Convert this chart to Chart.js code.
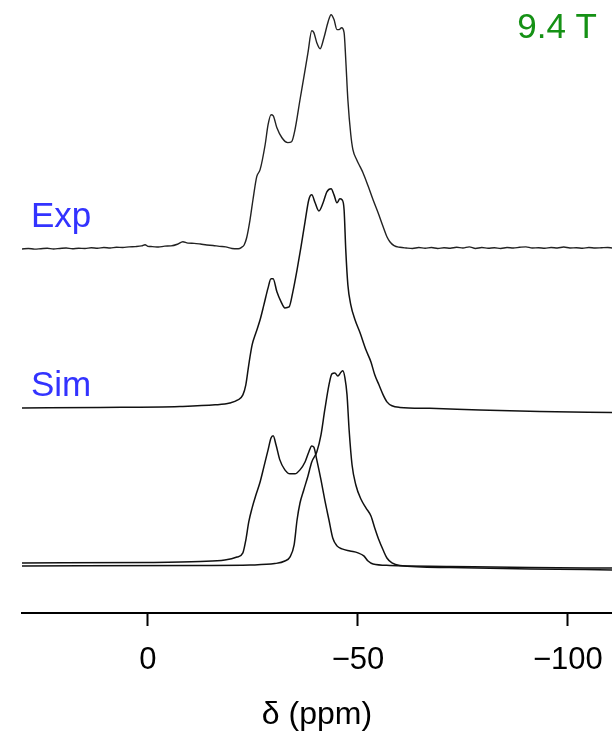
<!DOCTYPE html>
<html>
<head>
<meta charset="utf-8">
<script src="https://cdn.jsdelivr.net/npm/chart.js@4.4.1/dist/chart.umd.min.js"></script>
<style>
  html, body { margin: 0; padding: 0; background: #fff; }
  #wrap { width: 612px; height: 734px; position: relative; }
</style>
</head>
<body>
<div id="wrap"><canvas id="nmr"></canvas></div>
<script>
// chemical shift (ppm) and intensity (a.u., baseline = 0)
const expPpm = [30, 28.5, 27, 25.5, 24, 22.5, 21, 19.5, 18, 16.5, 15, 13.5, 12, 10.5, 9, 7.5, 6, 4.5, 3, 1.5, 0.7, 0,
    -1, -2.5, -4, -5.5, -7, -8.3, -9.5, -11, -12.5, -14, -15.5, -17, -18.5, -20, -21.5, -22.3, -22.9,
    -23.5, -24.3, -25.0, -25.9, -26.7, -27.9, -28.6, -29.3, -29.8, -30.7, -31.9, -33.3, -34.2, -35.0,
    -36.2, -37.1, -38.1, -39.0, -39.5, -40.2, -41.0, -41.9, -42.9, -43.6, -44.3, -45.0, -45.5, -46.1,
    -46.7, -47.1, -47.6, -48.3, -48.8, -49.7, -50.5, -51.2, -52.4, -53.6, -54.8, -56.0, -56.9, -57.6,
    -58.6, -60, -61.5, -63, -64.5, -66, -67.5, -69, -70.5, -72, -73.5, -75, -76.5, -78, -79.5, -81,
    -82.5, -84, -85.5, -87, -88.5, -90, -91.5, -93, -94.5, -96, -97.5, -99, -100.5, -102, -103.5, -105,
    -106.5, -108, -109.5, -110.5];
const expInt = [-0.5, -0.3, -0.6, -0.4, -0.2, -0.5, -0.3, -0.1, -0.4, -0.2, -0.3, 0, -0.2, 0.1, -0.1, 0.2, 0.1, 0.4, 0.5, 0.8, 1.3, 0.6,
    0.5, 0.3, 0.7, 0.8, 1.5, 2.6, 2.0, 1.9, 1.6, 1.2, 1.0, 0.6, 0.4, -0.3, -0.4, 0.2, 1.2,
    4.3, 12.0, 20.6, 30.5, 33.5, 44.2, 52.8, 57.1, 56.7, 51.5, 47.2, 45.1, 45.5, 50.6,
    63.5, 73.0, 83.7, 93.1, 92.3, 88.0, 85.4, 90.1, 97.0, 100, 97.9, 93.6, 93.6, 94.4,
    92.3, 80.7, 63.5, 48.5, 42.1, 37.8, 34.8, 32.2, 26.6, 20.6, 15.0, 9.0, 4.7, 2.6,
    0.9, 0.2, -0.1, -0.3, 0.1, -0.2, 0.1, -0.3, 0, -0.2, 0.2, -0.1, 0.4, -0.3, 0.1, -0.2,
    0, -0.3, 0.1, -0.1, 0.2, 0.4, -0.1, 0, -0.2, 0.1, -0.1, 0.3, -0.1, 0, -0.2, 0.1,
    -0.1, 0, 0.1, -0.1];

const simPpm = [30, 11.4, -7.6, -16.0, -19.5, -21.4, -22.6, -23.3, -24.0, -24.8, -25.7, -26.7, -27.6, -28.6,
    -29.3, -29.8, -30.7, -31.7, -32.6, -33.6, -34.5, -35.5, -36.4, -37.4, -38.3, -39.0, -39.8, -40.7,
    -41.7, -42.6, -43.6, -44.3, -45.0, -45.7, -46.2, -46.7, -47.1, -47.6, -48.3, -49.3, -50.5, -51.9,
    -53.1, -54.0, -55.0, -56.0, -56.9, -58.1, -60.0, -67.1, -79.0, -93.3, -110.5];
const simInt = [0, 0.2, 0.6, 1.3, 2.1, 3.4, 5.6, 9.9, 18.5, 27.0, 32.2, 37.8, 44.2, 51.5,
    55.4, 55.4, 49.8, 45.5, 42.9, 43.3, 49.8, 59.2, 68.7, 79.8, 89.3, 91.4, 88.0, 84.5,
    88.0, 92.7, 94.0, 91.4, 88.0, 89.7, 89.3, 85.0, 67.8, 52.8, 44.2, 37.8, 32.2, 24.9,
    19.7, 14.2, 9.9, 5.6, 2.6, 0.9, 0.2, -0.2, -0.9, -1.5, -2.0];

// site 1 (broad pattern) and site 2 (narrow pattern)
const site1Ppm = [30, -0.5, -12.4, -18.3, -21.2, -22.6, -23.3, -24.0, -24.8, -25.7, -26.7, -27.6, -28.6, -29.3,
    -29.8, -30.5, -31.4, -32.6, -33.8, -35.0, -36.2, -37.4, -38.3, -39.0, -39.5, -40.2, -41.2, -42.1,
    -43.1, -44.0, -45.0, -46.2, -48.1, -50.0, -51.4, -52.4, -53.6, -57.6, -71.9, -91.0, -110.5];
const site1Int = [0.9, 1.1, 1.5, 2.1, 3.4, 5.2, 10.7, 18.5, 24.5, 30.0, 35.6, 42.1, 49.4, 54.5,
    55.4, 51.5, 45.1, 40.8, 39.1, 39.1, 40.8, 44.2, 48.5, 51.1, 50.6, 45.1, 36.5, 27.9,
    19.3, 11.6, 8.2, 6.9, 6.0, 5.2, 3.9, 1.7, 0.4, -0.2, -0.6, -1.1, -1.3];

const site2Ppm = [30, -12.4, -24.3, -30.2, -32.6, -33.8, -34.8, -35.5, -36.2, -37.1, -38.1, -39.0, -40.2, -41.2,
    -42.1, -43.1, -43.8, -44.5, -45.2, -46.0, -46.4, -46.9, -47.4, -47.9, -48.6, -49.5, -50.7, -51.9,
    -53.1, -54.0, -55.0, -56.0, -56.9, -58.1, -60.0, -71.9, -91.0, -110.5];
const site2Int = [-0.4, -0.2, 0, 0.6, 1.7, 3.4, 8.6, 19.3, 26.6, 32.2, 38.2, 44.2, 48.5, 55.8,
    66.5, 77.3, 82.0, 82.4, 81.1, 82.8, 83.3, 80.3, 73.0, 57.9, 42.9, 34.3, 28.3, 24.5,
    21.0, 15.9, 10.7, 6.4, 3.0, 0.9, -0.2, -1.1, -1.7, -2.1];

const tickValues = [0, -50, -100];

// vertical stacking of the traces
const expOffset = 156.7;
const simOffset = 88.0;
const siteOffset = 20.6;

function toPoints(ppm, intensity, offset) {
    return ppm.map((p, i) => ({ x: p, y: intensity[i] + offset }));
}

const lineStyle = {
    showLine: true,
    pointRadius: 0,
    borderColor: '#111',
    borderWidth: 1.5,
    fill: false,
    cubicInterpolationMode: 'monotone'
};

const labels = {
    id: 'labels',
    afterDraw(chart) {
        const ctx = chart.ctx;
        ctx.save();
        ctx.font = '35px "Liberation Sans", Arial, sans-serif';
        ctx.textBaseline = 'alphabetic';
        ctx.fillStyle = '#3333ff';
        ctx.textAlign = 'left';
        ctx.fillText('Exp', 31, 227);
        ctx.fillText('Sim', 31, 396);
        ctx.fillStyle = '#159115';
        ctx.textAlign = 'right';
        ctx.fillText('9.4 T', 597, 38);
        ctx.restore();
    }
};

Chart.defaults.font.family = '"Liberation Sans", Arial, sans-serif';
Chart.defaults.color = '#000';

var ctx = document.getElementById('nmr').getContext('2d');
new Chart(ctx, {
    type: 'scatter',
    data: {
        datasets: [
            Object.assign({ label: 'Exp', data: toPoints(expPpm, expInt, expOffset) }, lineStyle, { borderWidth: 1.4, borderColor: '#222' }),
            Object.assign({ label: 'Sim', data: toPoints(simPpm, simInt, simOffset) }, lineStyle),
            Object.assign({ label: 'Site 1', data: toPoints(site1Ppm, site1Int, siteOffset) }, lineStyle),
            Object.assign({ label: 'Site 2', data: toPoints(site2Ppm, site2Int, siteOffset) }, lineStyle)
        ]
    },
    options: {
        responsive: true,
        maintainAspectRatio: false,
        animation: false,
        layout: { padding: { left: 22, right: 0, top: 0, bottom: 0 } },
        plugins: {
            legend: { display: false },
            tooltip: { enabled: false }
        },
        scales: {
            x: {
                type: 'linear',
                reverse: true,
                min: -110.5,
                max: 30,
                afterBuildTicks: (scale) => {
                    scale.ticks = tickValues.map(v => ({ value: v }));
                },
                afterFit: (scale) => {
                    scale.height = 121;
                    scale.paddingLeft = 0;
                    scale.paddingRight = 0;
                },
                border: { display: true, color: '#000', width: 2 },
                grid: {
                    drawOnChartArea: false,
                    drawTicks: true,
                    tickLength: 13,
                    tickWidth: 2,
                    tickColor: '#000'
                },
                ticks: {
                    padding: 16,
                    maxRotation: 0,
                    font: { size: 31 },
                    color: '#000',
                    callback: (v) => (v < 0 ? '\u2212' + Math.abs(v) : String(v))
                },
                title: {
                    display: true,
                    text: 'δ (ppm)',
                    font: { size: 32 },
                    color: '#000',
                    padding: { top: 0, bottom: 0 }
                }
            },
            y: {
                display: false,
                min: 0,
                max: 263
            }
        }
    },
    plugins: [labels]
});
</script>
</body>
</html>
